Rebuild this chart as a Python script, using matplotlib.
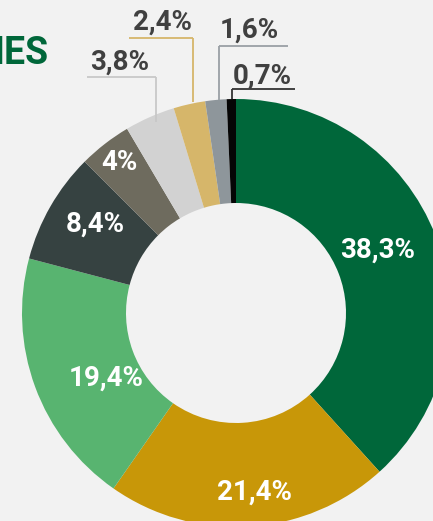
import matplotlib.pyplot as plt

# shares, clockwise from 12 o'clock
values = [38.3, 21.4, 19.4, 8.4, 4.0, 3.8, 2.4, 1.6, 0.7]
labels = ['38,3%', '21,4%', '19,4%', '8,4%', '4%', '3,8%', '2,4%', '1,6%', '0,7%']
colors = ['#00673A', '#C89708', '#58B470', '#364241', '#6E6B5E',
          '#D2D2D2', '#D6B66A', '#8E969B', '#050505']

W, H = 433, 521
bg = '#F2F2F2'
cx, cy = 236, H - 313
r_out, r_in = 214, 110

plt.rcParams['font.family'] = ['Roboto', 'DejaVu Sans']

fig = plt.figure(figsize=(W / 100, H / 100), dpi=100, facecolor=bg)
ax = fig.add_axes([0, 0, 1, 1])
ax.set_facecolor(bg)

ax.pie(values, colors=colors, startangle=90, counterclock=False,
       center=(cx, cy), radius=r_out,
       wedgeprops=dict(width=r_out - r_in, linewidth=0))

ax.set_xlim(0, W)
ax.set_ylim(0, H)
ax.set_aspect('auto')
ax.axis('off')

# labels inside the ring (pixel positions, y from top)
inside = {0: (378, 250), 1: (254, 492), 2: (106, 378), 3: (95, 224), 4: (119, 162)}
for i, (x, y) in inside.items():
    ax.text(x, H - y, labels[i], color='white', fontsize=20, fontweight='bold',
            ha='center', va='center')

# small slices with leader lines: text pos, line x0, line x1, line y, drop to y
outside = {
    5: ((120, 62), 87, 156, 77, 122, '#C8C8C8'),
    6: ((163, 22), 129, 193, 38, 102, '#D6B66A'),
    7: ((249, 30), 219, 288, 46, 100, '#9AA0A5'),
    8: ((262, 76), 232, 295, 89, 99, '#333333'),
}
for i, ((tx, ty), x0, x1, ly, y_end, lc) in outside.items():
    ax.text(tx, H - ty, labels[i], color='#404040', fontsize=20, fontweight='bold',
            ha='center', va='center')
    ax.plot([x0, x1], [H - ly, H - ly], color=lc, lw=1.3, solid_capstyle='butt')
    xv = x1 if i in (5, 6) else x0
    ax.plot([xv, xv], [H - ly, H - y_end], color=lc, lw=1.3, solid_capstyle='butt')

ax.text(48, H - 54, 'IES', color='#00673A', fontsize=27, fontweight='bold',
        ha='right', va='center')

fig.savefig('out.png', dpi=100, facecolor=bg)
